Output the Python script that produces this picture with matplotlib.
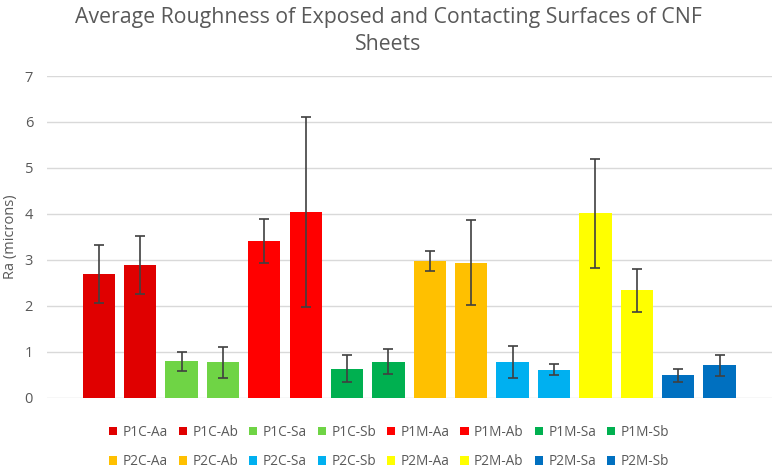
import numpy as np
import matplotlib
matplotlib.use('Agg')
import matplotlib.pyplot as plt

labels = ['P1C-Aa', 'P1C-Ab', 'P1C-Sa', 'P1C-Sb', 'P1M-Aa', 'P1M-Ab', 'P1M-Sa', 'P1M-Sb',
          'P2C-Aa', 'P2C-Ab', 'P2C-Sa', 'P2C-Sb', 'P2M-Aa', 'P2M-Ab', 'P2M-Sa', 'P2M-Sb']
ra_mean = [2.70, 2.89, 0.79, 0.77, 3.41, 4.04, 0.63, 0.78,
           2.98, 2.94, 0.78, 0.61, 4.01, 2.34, 0.49, 0.71]
ra_err = [0.63, 0.63, 0.21, 0.34, 0.47, 2.06, 0.29, 0.27,
          0.22, 0.92, 0.35, 0.12, 1.19, 0.47, 0.14, 0.23]
colors = ['#E00000', '#E00000', '#6FD445', '#6FD445', '#FF0000', '#FF0000', '#00B050', '#00B050',
          '#FFC000', '#FFC000', '#00B0F0', '#00B0F0', '#FFFF00', '#FFFF00', '#0070C0', '#0070C0']

plt.rcParams['font.family'] = ['Open Sans', 'DejaVu Sans']

fig = plt.figure(figsize=(7.75, 4.71), dpi=100)
ax = fig.add_axes([47 / 775, 1 - 397.7 / 471, (771.7 - 47) / 775, (397.7 - 76) / 471])

handles = []
for i in range(len(labels)):
    b = ax.bar(i, ra_mean[i], width=0.78, color=colors[i], label=labels[i], zorder=2)
    ax.errorbar(i, ra_mean[i], yerr=ra_err[i], fmt='none', ecolor='#404040',
                elinewidth=1.2, capsize=3.5, capthick=1.2, zorder=3)
    handles.append(b)

ax.set_xlim(-1.25, 16.26)
ax.set_ylim(0, 7)
ax.set_yticks(range(0, 8))
ax.set_xticks([])
ax.grid(axis='y', color='#D9D9D9', linewidth=1, zorder=0)
for s in ax.spines.values():
    s.set_visible(False)
ax.tick_params(axis='y', length=0, labelsize=10.5, labelcolor='#595959', pad=10)
ax.set_ylabel('Ra (microns)', fontsize=10.5, color='#595959', labelpad=5)

fig.text(388 / 775, 1 - 18 / 471, 'Average Roughness of Exposed and Contacting Surfaces of CNF',
         ha='center', va='center', fontsize=15.3, color='#595959')
fig.text(388 / 775, 1 - 45 / 471, 'Sheets',
         ha='center', va='center', fontsize=15.3, color='#595959')

order = []
for k in range(8):
    order += [k, k + 8]
fig.legend([handles[k] for k in order], [labels[k] for k in order],
           ncol=8, loc='center', bbox_to_anchor=(389 / 775, 1 - 447 / 471),
           frameon=False, fontsize=9.8, labelcolor='#595959',
           handlelength=0.6, handleheight=0.6, handletextpad=0.4,
           columnspacing=0.8, labelspacing=1.05)

fig.savefig('out.png', dpi=100)
